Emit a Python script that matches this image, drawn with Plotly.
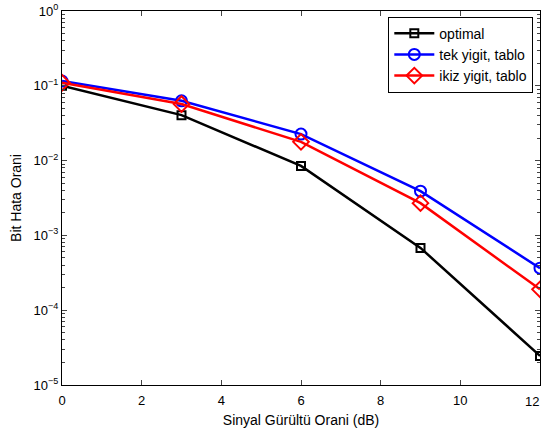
import plotly.graph_objects as go

snr = [0, 3, 6, 9, 12]
optimal = [0.100, 0.0405, 0.0085, 0.00068, 0.0000245]
tek = [0.116, 0.063, 0.0226, 0.0039, 0.000365]
ikiz = [0.110, 0.057, 0.0178, 0.0027, 0.00019]

series_names = ["optimal", "tek yigit, tablo", "ikiz yigit, tablo"]
ytick_vals = [1e-5, 1e-4, 1e-3, 1e-2, 1e-1, 1e0]
ytick_text = ["10<sup>−5</sup>", "10<sup>−4</sup>", "10<sup>−3</sup>",
              "10<sup>−2</sup>", "10<sup>−1</sup>", "10<sup>0</sup>"]
xtick_vals = [0, 2, 4, 6, 8, 10, 12]
xtick_text = ["0", "2", "4", "6", "8", "10", ""]
last_xtick_label = "12"
minor_vals = [m * d for d in [1e-5, 1e-4, 1e-3, 1e-2, 1e-1] for m in range(2, 10)]

fig = go.Figure()
fig.add_trace(go.Scatter(x=snr, y=optimal, name=series_names[0], mode="lines+markers",
                         line=dict(color="black", width=2.5),
                         marker=dict(symbol="square-open", size=8, color="black", line=dict(width=2))))
fig.add_trace(go.Scatter(x=snr, y=tek, name=series_names[1], mode="lines+markers",
                         line=dict(color="blue", width=2.5),
                         marker=dict(symbol="circle-open", size=11, color="blue", line=dict(width=2))))
fig.add_trace(go.Scatter(x=snr, y=ikiz, name=series_names[2], mode="lines+markers",
                         line=dict(color="red", width=2.5),
                         marker=dict(symbol="diamond-open", size=12, color="red", line=dict(width=2))))

fig.add_annotation(x=xtick_vals[-1], y=0, xref="x", yref="paper", text=last_xtick_label,
                   showarrow=False, xanchor="right", yanchor="top", yshift=-7, xshift=1,
                   font=dict(size=13))

fig.update_layout(
    width=546, height=432,
    margin=dict(l=62, r=6, t=11, b=47, autoexpand=False),
    paper_bgcolor="white", plot_bgcolor="white",
    font=dict(family="Liberation Sans, Arial, sans-serif", size=13, color="black"),
    showlegend=True,
    legend=dict(x=0.986, y=0.985, xanchor="right", yanchor="top",
                bordercolor="black", borderwidth=1, bgcolor="white",
                font=dict(size=14), tracegroupgap=0, itemwidth=40),
)
fig.update_xaxes(range=[0, 12], tickvals=xtick_vals, ticktext=xtick_text,
                 ticks="inside", ticklen=5, ticklabelstandoff=3,
                 showline=True, linecolor="black", linewidth=1, mirror="ticks",
                 showgrid=False, zeroline=False, automargin=False,
                 tickfont=dict(size=13),
                 title=dict(text="Sinyal Gürültü Orani (dB)", standoff=8, font=dict(size=14)))
fig.update_yaxes(type="log", range=[-5, 0], tickvals=ytick_vals, ticktext=ytick_text,
                 ticks="inside", ticklen=5,
                 showline=True, linecolor="black", linewidth=1, mirror="ticks",
                 showgrid=False, zeroline=False, automargin=False,
                 tickfont=dict(size=13),
                 minor=dict(ticks="inside", ticklen=3, tickvals=minor_vals, showgrid=False),
                 title=dict(text="Bit Hata Orani", standoff=8, font=dict(size=14)))

fig.write_html("out.html", config={"displayModeBar": False},
               post_script="document.body.style.margin='0';document.body.style.overflow='hidden';")
